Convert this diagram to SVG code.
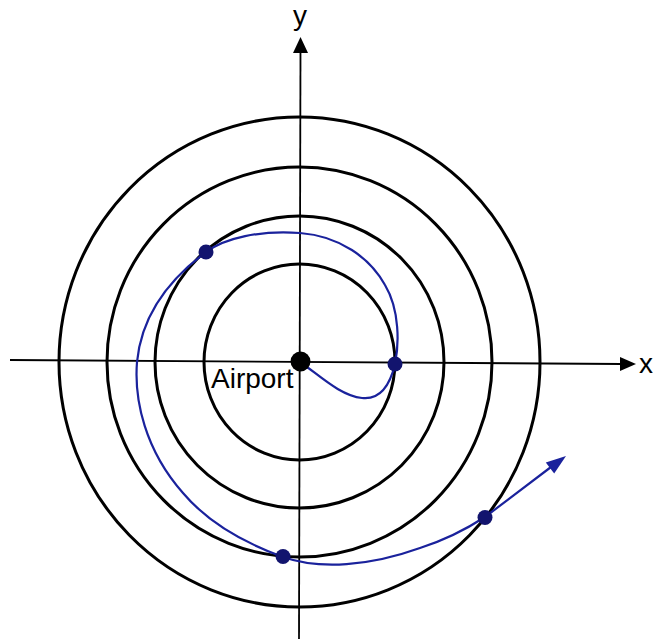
<svg xmlns="http://www.w3.org/2000/svg" width="653" height="639" viewBox="0 0 653 639">
<style>
.ring{fill:none;stroke:#000;stroke-width:3}
.axis{stroke:#000;stroke-width:1.8;fill:none}
.path{fill:none;stroke:#1a229c;stroke-width:2.2}
.pt{fill:#12146e}
.lbl{font-family:"Liberation Sans",Arial,sans-serif;font-size:28px;fill:#000}
</style>
<rect width="653" height="639" fill="#fff"/>
<g id="rings">
<ellipse class="ring" cx="299.5" cy="362" rx="95.5" ry="98"/>
<ellipse class="ring" cx="299.5" cy="362" rx="144.5" ry="146"/>
<ellipse class="ring" cx="299.5" cy="362" rx="192.5" ry="195"/>
<ellipse class="ring" cx="299.5" cy="362" rx="240.5" ry="245"/>
</g>
<g id="axes">
<line class="axis" x1="10" y1="360" x2="622" y2="364"/>
<polygon points="636,364 620,357 620,371" fill="#000"/>
<line class="axis" x1="300.5" y1="50" x2="299" y2="639"/>
<polygon points="300.5,37 293,53 308,53" fill="#000"/>
<text class="lbl" x="639" y="373">x</text>
<text class="lbl" x="300" y="25" text-anchor="middle">y</text>
</g>
<g id="connectors">
<path class="path" d="M300,362 C318,374 340,396 362,398 C380,400 390,385 395,364 C399,345 400,310 385,285 C370,258 340,236 300,233 C260,230 225,238 206,252 C175,275 142,310 137,362 C134,400 145,450 183,493 C210,525 250,545 283,557 C320,570 370,566 420,548 C445,540 465,530 485,517 L551,467"/>
<polygon points="566,456 554.2,473.6 545.8,462.4" fill="#1a229c"/>
</g>
<g id="airport">
<circle cx="300.5" cy="361.5" r="10" fill="#000"/>
<text class="lbl" x="211" y="388">Airport</text>
</g>
<g id="points">
<circle class="pt" cx="206" cy="252" r="7.5"/>
<circle class="pt" cx="395" cy="364" r="7.5"/>
<circle class="pt" cx="283" cy="556.5" r="7.5"/>
<circle class="pt" cx="485" cy="517.5" r="7.5"/>
</g>
</svg>
